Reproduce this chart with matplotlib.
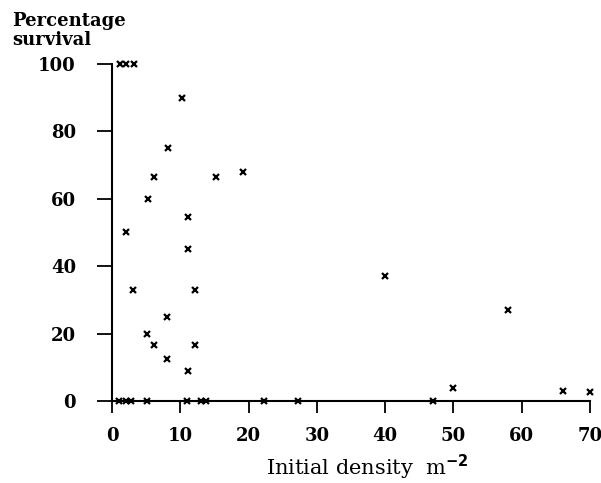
import matplotlib
matplotlib.use("Agg")
import matplotlib.pyplot as plt

# initial density (per m^2) and percentage survival
density = [1.1, 2.1, 3.2, 10.2, 8.2, 6.2, 15.2, 19.2, 5.2, 11.1, 2.0,
           11.1, 3.0, 12.1, 8.1, 5.1, 6.1, 12.1, 8.0, 11.1,
           40.0, 58.0, 50.0, 66.0, 70.0,
           1.0, 2.0, 2.8, 5.1, 11.0, 13.0, 13.8, 22.2, 27.2, 47.0]
survival = [100, 100, 100, 90, 75, 66.5, 66.5, 68, 60, 54.5, 50,
            45, 33, 33, 25, 20, 16.5, 16.5, 12.5, 9,
            37, 27, 4, 3, 2.8,
            0, 0, 0, 0, 0, 0, 0, 0, 0, 0]

xticks = [0, 10, 20, 30, 40, 50, 60, 70]
yticks = [0, 20, 40, 60, 80, 100]

fig = plt.figure(figsize=(6.01, 4.83), dpi=100)
ax = fig.add_axes([0.1864, 0.1698, 0.795, 0.6977])

ax.plot(density, survival, linestyle="none", marker="x", markersize=4.5,
        markeredgewidth=1.6, color="black", clip_on=False)

ax.set_xlim(0, 70)
ax.set_ylim(0, 100)
ax.set_xticks(xticks)
ax.set_yticks(yticks)

for side in ["top", "right"]:
    ax.spines[side].set_visible(False)
for side in ["left", "bottom"]:
    ax.spines[side].set_linewidth(1.5)

ax.tick_params(axis="x", direction="out", length=8.5, width=1.3, pad=10,
               labelsize=13)
ax.tick_params(axis="y", direction="out", length=11, width=1.3, pad=15,
               labelsize=13)
for lab in ax.get_xticklabels() + ax.get_yticklabels():
    lab.set_family("DejaVu Serif")
    lab.set_fontweight("bold")

ax.set_xlabel(r"Initial density  m$^{\mathbf{-2}}$", family="DejaVu Serif",
              fontsize=15, labelpad=6)
ax.xaxis.label.set_x(0.535)

fig.text(0.02, 0.975, "Percentage\nsurvival", family="DejaVu Serif",
         fontweight="bold", fontsize=13, va="top", ha="left", linespacing=1.05)

fig.savefig("out.png", dpi=100)
